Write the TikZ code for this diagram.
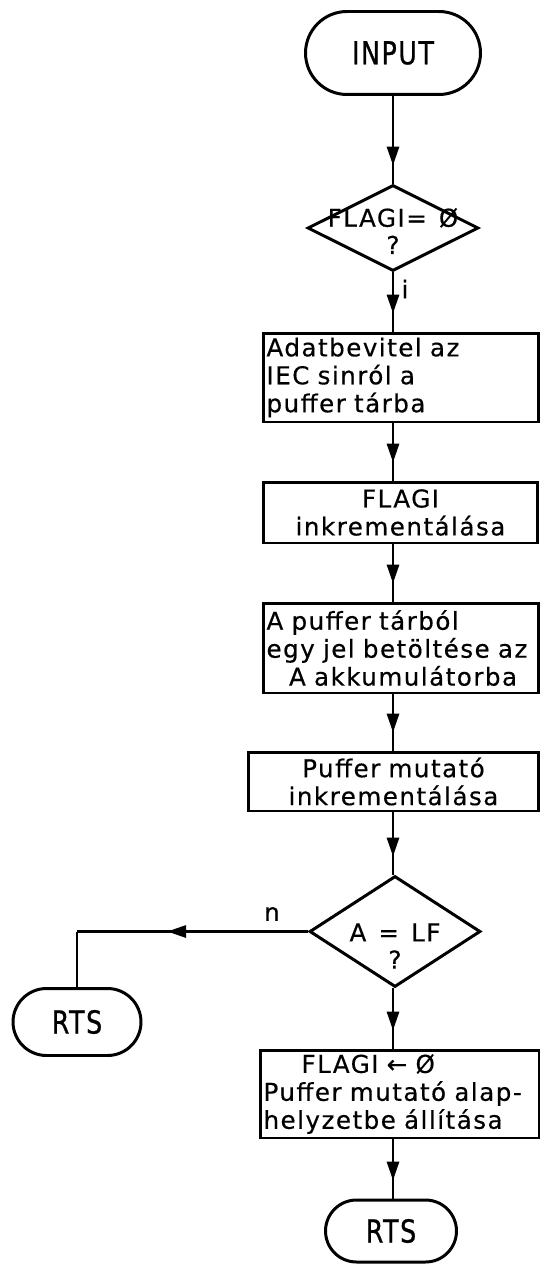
\documentclass[tikz,border=0pt]{standalone}
\usepackage{fontspec}
\setmainfont{DejaVu Sans}[LetterSpace=6, FakeBold=0.4, WordSpace=1.3]
\newfontfamily\termfont{DejaVu Sans}[FakeStretch=0.8, LetterSpace=5, FakeBold=0.8]
\usetikzlibrary{shapes.geometric, shapes.misc, arrows.meta, decorations.markings}
\tikzset{every picture/.append style={line width=1.7pt}}

\tikzset{
  terminal/.style={draw, rounded rectangle, inner sep=0pt, font=\termfont\fontsize{18}{20}\selectfont},
  decision/.style={draw, diamond, inner sep=0pt},
  procbox/.style={draw, rectangle, inner xsep=1.5pt, inner ysep=0pt, font=\fontsize{14}{15.9}\selectfont},
  txt/.style={inner sep=0pt, align=center, font=\fontsize{14}{15.5}\selectfont},
  headtip/.tip={Triangle[length=0.38cm, width=0.24cm]},
  flow/.style={decoration={markings, mark=at position -0.36cm with {\arrow{headtip}}}, postaction={decorate}},
  flowmid/.style={decoration={markings, mark=at position 0.61 with {\arrow{headtip}}}, postaction={decorate}},
}

\begin{document}
\begin{tikzpicture}[x=0.02cm, y=-0.02cm]
    \useasboundingbox (0,0) rectangle (539,1264);

    % =========================================================================
    % MAIN COLUMN
    % =========================================================================
    \node[terminal, minimum width=3.5cm, minimum height=1.66cm] (input) at (393,53) {INPUT};

    \node[decision, minimum width=3.42cm, minimum height=1.72cm] (flagtest) at (393,228) {};
    \node[txt] (flagtesttxt) at (393,231) {FLAGI= Ø\\?};

    \node[procbox, minimum width=5.44cm, minimum height=1.78cm, text width=5.38cm, align=left]
        (readin) at (401,377.5) {Adatbevitel az\\IEC sinról a\\puffer tárba};

    \node[procbox, minimum width=5.42cm, minimum height=1.22cm, text width=5.36cm, align=center]
        (flaginc) at (400.5,512.5) {FLAGI\\inkrementálása};

    \node[procbox, minimum width=5.44cm, minimum height=1.8cm, text width=5.38cm, align=left]
        (loadacc) at (401,648) {A puffer tárból\\egy jel betöltése az\\\hspace*{0.45cm}A akkumulátorba};

    \node[procbox, minimum width=5.74cm, minimum height=1.18cm, text width=5.68cm, align=center]
        (ptrinc) at (393.5,781.5) {Puffer mutató\\inkrementálása};

    \node[decision, minimum width=3.42cm, minimum height=2.22cm] (lftest) at (395,931.5) {};
    \node[txt] (lftesttxt) at (395,946) {A = LF\\?};

    \node[procbox, minimum width=5.52cm, minimum height=1.76cm, text width=5.46cm, align=left]
        (reset) at (400,1094) {\hspace*{0.76cm}FLAGI ← Ø\\Puffer mutató alap-\\helyzetbe állítása};

    \node[terminal, minimum width=2.62cm, minimum height=1.24cm] (rtsmain) at (391,1231) {RTS};

    % =========================================================================
    % LEFT BRANCH
    % =========================================================================
    \node[terminal, minimum width=2.56cm, minimum height=1.34cm] (rtsleft) at (77,1022) {RTS};
    \coordinate (ncorner) at (rtsleft.north |- lftest.west);

    % Connectors
    \draw[flow] (input.south) -- (flagtest.north);
    \draw[flow] (flagtest.south) -- (flagtest.south |- readin.north);
    \node[txt] (ilbl) at (405,289) {i};
    \draw[flow] (readin.south -| flagtest.south) -- (flaginc.north -| flagtest.south);
    \draw[flow] (flaginc.south -| flagtest.south) -- (loadacc.north -| flagtest.south);
    \draw[flow] (loadacc.south -| flagtest.south) -- (ptrinc.north -| flagtest.south);
    \draw[flow] (ptrinc.south -| flagtest.south) -- (lftest.north -| flagtest.south);
    \draw[flow] (lftest.south -| flagtest.south) -- (reset.north -| flagtest.south);
    \draw[flow] (reset.south -| flagtest.south) -- (rtsmain.north -| flagtest.south);

    \draw[flowmid] (lftest.west) -- (ncorner);
    \draw (ncorner) -- (rtsleft.north);
    \node[txt] (nlbl) at (272,914) {n};

\end{tikzpicture}
\end{document}
